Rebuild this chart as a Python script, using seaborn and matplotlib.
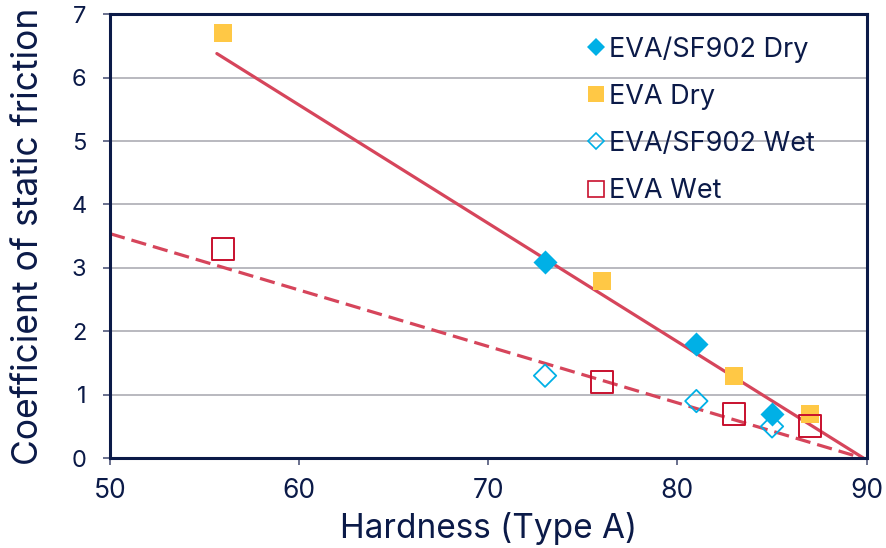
import matplotlib
matplotlib.use("Agg")
import matplotlib.pyplot as plt
from matplotlib.lines import Line2D
import seaborn as sns
import numpy as np

# ---- data ----
sf_dry_x = [73, 81, 85]
sf_dry_y = [3.1, 1.8, 0.7]
eva_dry_x = [56, 76, 83, 87]
eva_dry_y = [6.7, 2.8, 1.3, 0.7]
sf_wet_x = [73, 81, 85]
sf_wet_y = [1.3, 0.9, 0.5]
eva_wet_x = [56, 76, 83, 87]
eva_wet_y = [3.3, 1.2, 0.7, 0.5]

dry_trend_x = [55.65, 90.0]
dry_trend_y = [6.38, -0.03]
wet_trend_x = [50.0, 89.8]
wet_trend_y = [3.54, 0.0]

labels = ["EVA/SF902 Dry", "EVA Dry", "EVA/SF902 Wet", "EVA Wet"]
x_ticks = [50, 60, 70, 80, 90]
y_ticks = [0, 1, 2, 3, 4, 5, 6, 7]

# ---- style ----
NAVY = "#0B1A48"
BLUE = "#00B0E6"
YELLOW = "#FFC845"
RED = "#C8102E"
LINE = "#D6455B"
GRID = "#A6A6AE"

sns.set_theme(style="white")
plt.rcParams["font.family"] = ["Inter", "DejaVu Sans"]
plt.rcParams["text.color"] = NAVY

fig = plt.figure(figsize=(8.87, 5.48), dpi=100)
ax = fig.add_axes([0.124, 0.164, 0.853, 0.810])

# trend lines
sns.lineplot(x=dry_trend_x, y=dry_trend_y, ax=ax, color=LINE, linewidth=2.3,
             sort=False, zorder=2)
sns.lineplot(x=wet_trend_x, y=wet_trend_y, ax=ax, color=LINE, linewidth=2.3,
             sort=False, zorder=2, linestyle=(0, (4.8, 2.2)))

# markers
sns.scatterplot(x=sf_dry_x, y=sf_dry_y, ax=ax, marker="D", s=150, color=BLUE,
                edgecolor=BLUE, linewidth=0, zorder=3)
sns.scatterplot(x=eva_dry_x, y=eva_dry_y, ax=ax, marker="s", s=150, color=YELLOW,
                edgecolor=YELLOW, linewidth=0, zorder=3)
sns.scatterplot(x=sf_wet_x, y=sf_wet_y, ax=ax, marker="D", s=130, color=BLUE,
                facecolor="none", edgecolor=BLUE, linewidth=1.3, zorder=4)
sns.scatterplot(x=eva_wet_x, y=eva_wet_y, ax=ax, marker="s", s=250, color=RED,
                facecolor="none", edgecolor=RED, linewidth=1.4, zorder=4)

ax.set_xlim(50, 90)
ax.set_ylim(0, 7)
ax.set_xticks(x_ticks)
ax.set_yticks(y_ticks)
ax.yaxis.grid(True, color=GRID, linewidth=1.1)
ax.xaxis.grid(False)
ax.set_axisbelow(True)

for sp in ax.spines.values():
    sp.set_visible(True)
    sp.set_color(NAVY)
    sp.set_linewidth(2.2)

ax.tick_params(axis="y", direction="out", length=5, width=1.2, color="#50587A",
               labelsize=17, labelcolor=NAVY, pad=12, left=True)
ax.tick_params(axis="x", direction="out", length=5, width=1.2, color="#50587A",
               labelsize=19, labelcolor=NAVY, pad=9, bottom=True)

ax.set_xlabel("Hardness (Type A)", fontsize=24, color=NAVY, labelpad=6)
ax.set_ylabel("Coefficient of static friction", fontsize=25.5, color=NAVY, labelpad=19)

handles = [
    Line2D([], [], linestyle="none", marker="D", markersize=8.7, color=BLUE,
           markeredgewidth=0),
    Line2D([], [], linestyle="none", marker="s", markersize=12, color=YELLOW,
           markeredgewidth=0),
    Line2D([], [], linestyle="none", marker="D", markersize=8.2, markerfacecolor="none",
           markeredgecolor=BLUE, markeredgewidth=1.2),
    Line2D([], [], linestyle="none", marker="s", markersize=11, markerfacecolor="none",
           markeredgecolor=RED, markeredgewidth=1.2),
]
leg = ax.legend(handles, labels, loc="upper left", bbox_to_anchor=(0.615, 0.975),
                frameon=False, fontsize=19.5, handlelength=0.7, handletextpad=0.15,
                labelspacing=0.78, borderaxespad=0)
for t in leg.get_texts():
    t.set_color(NAVY)

fig.savefig("out.png", dpi=100)
